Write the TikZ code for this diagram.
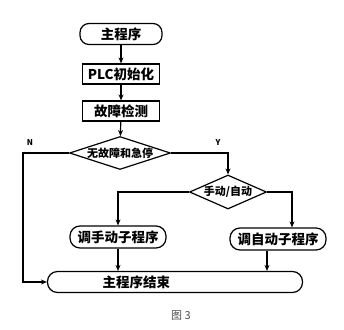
\documentclass[tikz,border=0pt]{standalone}
\usepackage{fontspec}
\setmainfont{Noto Sans CJK SC}
\usepackage{tikz}
\usetikzlibrary{positioning}
\usetikzlibrary{shapes.geometric}
\usetikzlibrary{arrows.meta}
\begin{document}
\begin{tikzpicture}[
    x=1pt, y=-1pt,
    every node/.style={draw=black, line width=1.2pt, inner sep=0pt, font=\fontsize{13.5}{15}\selectfont\bfseries},
    startbox/.style={rounded corners=9pt, minimum width=82pt, minimum height=21pt},
    procbox/.style={rectangle, minimum width=77pt, minimum height=20pt},
    decision/.style={diamond, font=\fontsize{11}{12}\selectfont\bfseries},
    subbox/.style={rounded corners=10pt, minimum width=96pt, minimum height=22pt},
    endbox/.style={rounded corners=10pt, text width=235pt, inner xsep=10pt, minimum height=21pt, align=left},
    tag/.style={draw=none, font=\fontsize{8}{9}\selectfont\bfseries},
    flow/.style={line width=1.2pt, -{Stealth[length=6pt,width=5pt]}}
]
\useasboundingbox (0,0) rectangle (344,329);
% Flow chart blocks
\node[startbox] (start) at (121,34) {主程序};
\node[procbox] (init) at (121,74) {PLC初始化};
\node[procbox] (check) at (121,111) {故障检测};
\node[decision, aspect=3, minimum width=101pt, minimum height=33pt] (fault) at (120,153) {无故障和急停};
\node[decision, aspect=2.3, minimum width=77pt, minimum height=34pt] (mode) at (228,192) {手动/自动};
\node[subbox] (manual) at (118,237) {调手动子程序};
\node[subbox] (auto) at (278,239) {调自动子程序};
\node[endbox] (finish) at (175,282) {\hspace{45pt}主程序结束};
\node[tag] (no) at (30,143) {N};
\node[tag] (yes) at (218,143) {Y};
\node[draw=none, font=\fontsize{11}{12}\selectfont\color{black!70}] (fig) at (181,316) {图 3};
% Connections
\draw[flow] (start) -- (init);
\draw[flow] (init) -- (check);
\draw[flow] (check) -- (fault);
\draw[flow] (fault.west) -- ++(-46,0) |- (finish.west);
\draw[flow] (fault.east) -| (mode.north);
\draw[flow] (mode.west) -| (manual.north);
\draw[flow] (mode.east) -| ([xshift=14pt]auto.north);
\draw[flow] (manual) -- (manual |- finish.north);
\draw[flow] ([xshift=-11pt]auto.south) -- ([xshift=-11pt]auto.south |- finish.north);
\end{tikzpicture}
\end{document}
